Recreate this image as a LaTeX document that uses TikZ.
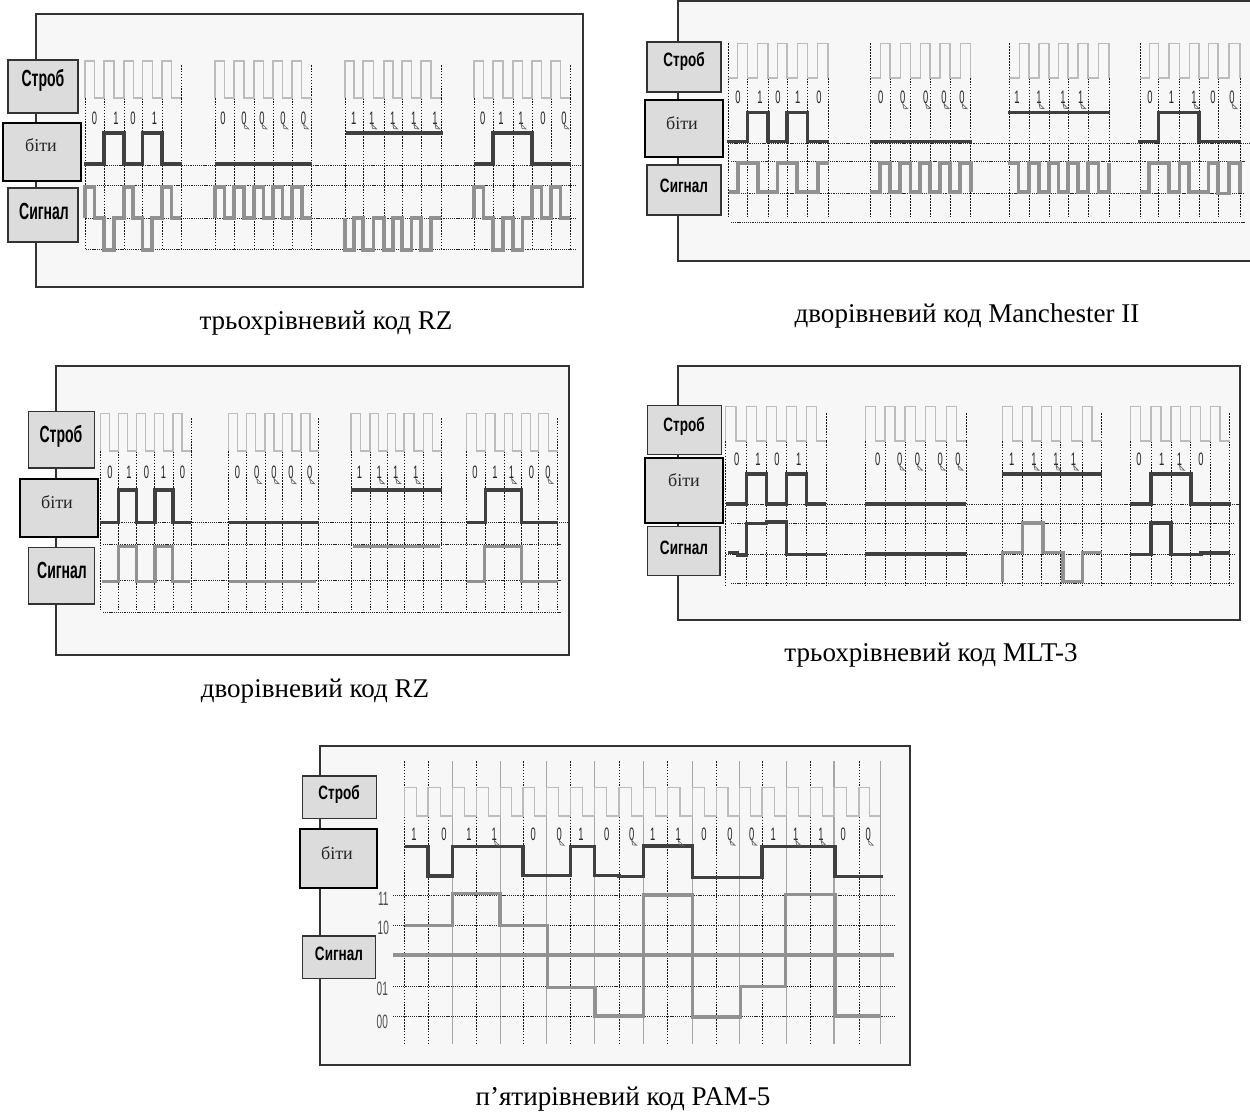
\documentclass[tikz,border=0pt]{standalone}
\usepackage{fontspec}
\setmainfont{Liberation Serif}
\newfontfamily\narrowfont[FakeStretch=0.7]{Liberation Sans}
\newfontfamily\tallfont[FakeStretch=0.6]{Liberation Sans}
\newfontfamily\digitfont[FakeStretch=0.52]{Liberation Sans}
\definecolor{panelFill}{RGB}{247,247,247}
\definecolor{boxFill}{RGB}{220,220,220}
\definecolor{bitDark}{RGB}{64,64,64}
\definecolor{signalGray}{RGB}{145,145,145}
\definecolor{clockGray}{RGB}{188,188,188}
\tikzset{
  panelframe/.style={draw=black!80, fill=panelFill, line width=0.9pt},
  thinbox/.style={draw=black!80, fill=boxFill, line width=1pt},
  thickbox/.style={draw=black, fill=boxFill, line width=1.5pt},
  boxlabel/.style={font=\narrowfont\bfseries\fontsize{14.5}{15}\selectfont, inner sep=0pt},
  boxlabeltall/.style={font=\tallfont\bfseries\fontsize{17.5}{18}\selectfont, inner sep=0pt},
  bitslabel/.style={font=\fontsize{13.5}{14}\selectfont, inner sep=0pt, text=black!85},
  digitlabel/.style={font=\digitfont\fontsize{13.5}{14}\selectfont, inner sep=0pt, text=black!85},
  levellabel/.style={font=\digitfont\fontsize{14.5}{15}\selectfont, inner sep=0pt, text=black!70},
  captionlabel/.style={font=\fontsize{20.3}{22}\selectfont, inner sep=0pt},
  gridrow/.style={black!85, line width=0.6pt, dash pattern=on 0.8pt off 0.6pt},
  gridcol/.style={black!90, line width=0.6pt, dash pattern=on 1.2pt off 1pt},
  gridsolid/.style={black!35, line width=0.8pt},
  clockline/.style={clockGray, line width=0.9pt},
  bitline/.style={bitDark, line width=2.5pt},
  signalline/.style={signalGray, line width=2.8pt},
  signalthin/.style={signalGray, line width=2.4pt},
  centerline/.style={signalGray, line width=3.4pt},
  cursormark/.style={black!60, line width=0.5pt}
}
\newcommand{\halfcell}[4]{-- (#1,#3) -- ({(#1+#2)/2},#3) -- ({(#1+#2)/2},#4) -- (#2,#4)}
\newcommand{\strobegroups}[6]{%
  \foreach \xa/\xb/\xc/\xd/\xe/\xf in {#6}{
    \foreach \xg in {\xa,\xb,\xc,\xd,\xe,\xf}
      \draw[gridcol] (\xg,#3) -- (\xg,#4);
    \draw[gridcol] (\xf,#5) -- (\xf,#3);
    \draw[clockline] (\xa,#3) \halfcell{\xa}{\xb}{#1}{#2} \halfcell{\xb}{\xc}{#1}{#2} \halfcell{\xc}{\xd}{#1}{#2} \halfcell{\xd}{\xe}{#1}{#2} \halfcell{\xe}{\xf}{#1}{#2} -- (\xf,#3);
  }}
\newcommand{\plainbits}[2]{%
  \foreach \xp/\dg in {#2}
    \node[digitlabel] at (\xp,#1) {\dg};}
\newcommand{\cursorbits}[2]{%
  \foreach \xp/\dg in {#2}{
    \node[digitlabel] at (\xp,#1) {\dg};
    \draw[cursormark] (\xp,#1+6) -- (\xp+5,#1+11) -- (\xp+1,#1+10.5) -- cycle;
  }}
\begin{document}
\begin{tikzpicture}[x=0.75pt, y=-0.75pt, line cap=butt, line join=miter]
  \useasboundingbox[fill=white] (0,0) rectangle (1250,1113);

  % RZ, three levels
  \draw[panelframe] (36,14) rectangle (583,287);
  \foreach \yrow/\xl/\xr in {165/85/583, 185/86/576, 218/86/576, 249/86/576}
    \draw[gridrow] (\xl,\yrow) -- (\xr,\yrow);
  \strobegroups{61}{98}{98}{248}{65}{85/104/124/142.5/162/181, 215/234/254/273/292/311.5, 345/363/384/402/421/441, 474/493/513/532/551/570}
  \draw[bitline] (84,164) -- (104,164) -- (104,133) -- (124,133) -- (124,164) -- (142.5,164) -- (142.5,133) -- (162,133) -- (162,164) -- (182,164);
  \draw[bitline] (215,164) -- (312,164);
  \draw[bitline] (346,133) -- (443,133);
  \draw[bitline] (474,164) -- (493,164) -- (493,133) -- (532,133) -- (532,164) -- (571,164);
  \draw[signalline] (85,218) \halfcell{85}{104}{187}{218} \halfcell{104}{124}{250}{218} \halfcell{124}{142.5}{187}{218} \halfcell{142.5}{162}{250}{218} \halfcell{162}{181}{187}{218};
  \draw[signalline] (215,218) \halfcell{215}{234}{187}{218} \halfcell{234}{254}{187}{218} \halfcell{254}{273}{187}{218} \halfcell{273}{292}{187}{218} \halfcell{292}{311.5}{187}{218};
  \draw[signalline] (345,218) \halfcell{345}{363}{250}{218} \halfcell{363}{384}{250}{218} \halfcell{384}{402}{250}{218} \halfcell{402}{421}{250}{218} \halfcell{421}{441}{250}{218};
  \draw[signalline] (474,218) \halfcell{474}{493}{187}{218} \halfcell{493}{513}{250}{218} \halfcell{513}{532}{250}{218} \halfcell{532}{551}{187}{218} \halfcell{551}{570}{187}{218};
  \plainbits{118}{94.6/0, 116/1, 133/0, 154.5/1, 223/0, 353.6/1, 482.8/0, 501/1, 543/0}
  \cursorbits{118}{244/0, 262/0, 283/0, 303.5/0, 371.6/1, 392.7/1, 413.8/1, 434.9/1, 521/1, 564/0}
  \path[thinbox] (8,60) rectangle (78,113);
  \path[thickbox] (3,123) rectangle (81,181);
  \path[thinbox] (8,188) rectangle (78,242);
  \node[boxlabeltall] (strobeA) at (43,80) {Строб};
  \node[bitslabel] (bitsA) at (41,145) {біти};
  \node[boxlabeltall] (signalA) at (44,211) {Сигнал};
  \node[captionlabel] (captionA) at (326,323) {трьохрівневий код RZ};

  % Manchester
  \draw[panelframe] (678,1) rectangle (1251,261);
  \foreach \yrow/\xl/\xr in {143/728/1250, 161.7/731/1245, 193.3/728/1245, 222.7/731/1245}
    \draw[gridrow] (\xl,\yrow) -- (\xr,\yrow);
  \strobegroups{78}{43.5}{78}{218}{43.5}{728/747.4/768/787/807.5/828, 870.7/890/910.6/930/950/970.7, 1009.4/1029/1049/1068/1088/1109, 1140/1158.5/1179.4/1199/1218/1240}
  \foreach \xg in {728,870.7,1009.4,1140}
    \draw[gridcol] (\xg,43.5) -- (\xg,78);
  \draw[bitline] (727,141.7) -- (747.4,141.7) -- (747.4,112.7) -- (768,112.7) -- (768,141.7) -- (787,141.7) -- (787,112.7) -- (807.5,112.7) -- (807.5,141.7) -- (829,141.7);
  \draw[bitline] (870,141.7) -- (972,141.7);
  \draw[bitline] (1008,112.7) -- (1110,112.7);
  \draw[bitline] (1138,141.7) -- (1158.5,141.7) -- (1158.5,112.7) -- (1199,112.7) -- (1199,141.7) -- (1241,141.7);
  \draw[signalline] (729,192) \halfcell{729}{747.4}{192}{163} \halfcell{747.4}{768}{163}{192} \halfcell{768}{787}{192}{163} \halfcell{787}{807.5}{163}{192} \halfcell{807.5}{829}{192}{163};
  \draw[signalline] (870,192) \halfcell{870}{890}{192}{163} \halfcell{890}{910.6}{192}{163} \halfcell{910.6}{930}{192}{163} \halfcell{930}{950}{192}{163} \halfcell{950}{970.7}{192}{163} -- (970.7,192);
  \draw[signalline] (1008,163) \halfcell{1008}{1029}{163}{192} \halfcell{1029}{1049}{163}{192} \halfcell{1049}{1068}{163}{192} \halfcell{1068}{1088}{163}{192} \halfcell{1088}{1109}{163}{192} -- (1109,163);
  \draw[signalline] (1140,192) \halfcell{1140}{1158.5}{192}{163} \halfcell{1158.5}{1179.4}{163}{192} \halfcell{1179.4}{1199}{163}{192} \halfcell{1199}{1218}{192}{163} \halfcell{1218}{1240}{193.5}{163} -- (1240,193);
  \plainbits{97.7}{738/0, 760/1, 778/0, 797.6/1, 819/0, 880.6/0, 1017/1, 1150/0, 1171.5/1, 1213/0}
  \cursorbits{97.7}{902.7/0, 925.6/0, 944/0, 962/0, 1039/1, 1063/1, 1080.6/1, 1194/1, 1232/0}
  \path[thinbox] (647,42) rectangle (721,92);
  \path[thickbox] (645,100) rectangle (722.5,157);
  \path[thinbox] (647,165) rectangle (721,215);
  \node[boxlabel] (strobeB) at (684,61.5) {Строб};
  \node[bitslabel] (bitsB) at (682,123) {біти};
  \node[boxlabel] (signalB) at (684,185.5) {Сигнал};
  \node[captionlabel] (captionB) at (967,316) {дворівневий код Manchester II};

  % RZ, two levels
  \draw[panelframe] (56,366) rectangle (569,655);
  \foreach \yrow/\xl/\xr in {522.5/100/567, 544.3/103/562, 580/103/562, 612.3/103/562}
    \draw[gridrow] (\xl,\yrow) -- (\xr,\yrow);
  \strobegroups{413.3}{451}{451}{610}{418}{100.4/118.8/136.8/154.4/173/191, 228.7/246.7/265/282.8/301/318.8, 351/370/387.4/404/423.8/441.8, 466.7/485.8/504.2/521.5/538.7/557.5}
  \draw[bitline] (100,522.3) -- (118.8,522.3) -- (118.8,490) -- (136.8,490) -- (136.8,522.3) -- (155,522.3) -- (155,490) -- (173,490) -- (173,522.3) -- (191,522.3);
  \draw[bitline] (228.7,522.3) -- (318.8,522.3);
  \draw[bitline] (351,490) -- (441.8,490);
  \draw[bitline] (466.7,522.3) -- (485.8,522.3) -- (485.8,490) -- (521.5,490) -- (521.5,522.3) -- (557.5,522.3);
  \draw[signalthin] (102,581.7) -- (118.8,581.7) -- (118.8,546.7) -- (136.8,546.7) -- (136.8,581.7) -- (155,581.7) -- (155,546.7) -- (172.8,546.7) -- (172.8,581.7) -- (190.4,581.7);
  \draw[signalthin] (228.7,581.7) -- (316,581.7);
  \draw[signalthin] (352.5,546.7) -- (439.5,546.7);
  \draw[signalthin] (467.4,581.7) -- (484.7,581.7) -- (484.7,546.7) -- (521.5,546.7) -- (521.5,581.7) -- (557.5,581.7);
  \plainbits{472.7}{110/0, 129/1, 146.4/0, 163.6/1, 182.4/0, 237.5/0, 359.4/1, 475/0, 495/1, 531.4/0}
  \cursorbits{472.7}{256.7/0, 274/0, 291/0, 309.6/0, 379.3/1, 395.8/1, 415.7/1, 511.5/1, 548/0}
  \path[thinbox] (28.7,411.7) rectangle (94.6,468);
  \path[thickbox] (20,479) rectangle (97.7,537);
  \path[thinbox] (28.7,547.7) rectangle (94.6,604);
  \node[boxlabeltall] (strobeC) at (61,436) {Строб};
  \node[bitslabel] (bitsC) at (57,502) {біти};
  \node[boxlabeltall] (signalC) at (62,570) {Сигнал};
  \node[captionlabel] (captionC) at (315,691) {дворівневий код RZ};

  % MLT-3
  \draw[panelframe] (678,366) rectangle (1240,620);
  \foreach \yrow/\xl/\xr in {504/726/1240, 523.3/731/1234.7, 554.3/726/1234.7, 583.3/731/1234.7}
    \draw[gridrow] (\xl,\yrow) -- (\xr,\yrow);
  \strobegroups{406.7}{441}{441}{585}{413.3}{725.7/746.2/766.4/786.5/806.7/826.4, 865.2/885/905/925.3/946.2/966, 1002.3/1022.5/1041.5/1060.8/1082.6/1101.5, 1130.4/1151/1171/1190.5/1210.2/1229.6}
  \draw[bitline] (725.7,504) -- (746.2,504) -- (746.2,474) -- (766.4,474) -- (766.4,504) -- (786.5,504) -- (786.5,474) -- (806.7,474) -- (806.7,504) -- (826.4,504);
  \draw[bitline] (865.2,504) -- (966,504);
  \draw[bitline] (1002.3,474) -- (1101.5,474);
  \draw[bitline] (1130.4,504) -- (1151,504) -- (1151,474) -- (1191,474) -- (1191,504) -- (1231,504);
  \draw[bitline] (728,552.7) -- (737.5,552.7) -- (737.5,555) -- (746.2,555) -- (746.2,523.5) -- (766.4,523.5) -- (766.4,522) -- (786.5,522) -- (786.5,554.5) -- (826.4,554.5);
  \draw[bitline] (865,554) -- (966,554);
  \draw[signalthin] (1002.3,582) -- (1002.3,552.5) -- (1022.5,552.5) -- (1022.5,523) -- (1043,523) -- (1043,552.5) -- (1063,552.5) -- (1063,581.7) -- (1082.6,581.7) -- (1082.6,552.5) -- (1101.5,552.5);
  \draw[bitline] (1130.4,554.5) -- (1151,554.5) -- (1151,523) -- (1171,523) -- (1171,554.5) -- (1201,554.5) -- (1201,553) -- (1229.6,553);
  \plainbits{459.3}{736.7/0, 758/1, 777/0, 798.8/1, 877.8/0, 1011.8/1, 1139/0, 1161.6/1, 1201/0}
  \cursorbits{459.3}{899.6/0, 917.4/0, 940.3/0, 958/0, 1034/1, 1056/1, 1073.5/1, 1179.4/1}
  \path[thinbox] (647.4,405.7) rectangle (721.7,454.3);
  \path[thickbox] (645,457.7) rectangle (722.5,522.7);
  \path[thinbox] (647.4,526.7) rectangle (720,575.7);
  \node[boxlabel] (strobeD) at (684,426) {Строб};
  \node[bitslabel] (bitsD) at (684,480) {біти};
  \node[boxlabel] (signalD) at (684,547.5) {Сигнал};
  \node[captionlabel] (captionD) at (931,655) {трьохрівневий код MLT-3};

  % PAM-5
  \draw[panelframe] (320,746) rectangle (910,1065);
  \foreach \xg in {404.7,428,476.7,523,570.7,619,667.7,716.3,762,810.3,859}
    \draw[gridcol] (\xg,761) -- (\xg,1044);
  \foreach \xg in {452.3,500.7,546.7,594.7,643.3,692.3,739.7,786.3,834,880.3}
    \draw[gridsolid] (\xg,761) -- (\xg,1044);
  \foreach \yrow in {895,925.7,986.7,1016}
    \draw[gridrow] (393.3,\yrow) -- (894,\yrow);
  \draw[centerline] (393.3,955) -- (894,955);
  \draw[clockline] (404.7,816) \halfcell{404.7}{428}{787.7}{816} \halfcell{428}{452.3}{787.7}{816} \halfcell{452.3}{476.7}{787.7}{816} \halfcell{476.7}{500.7}{787.7}{816} \halfcell{500.7}{523}{787.7}{816} \halfcell{523}{546.7}{787.7}{816} \halfcell{546.7}{570.7}{787.7}{816} \halfcell{570.7}{594.7}{787.7}{816} \halfcell{594.7}{619}{787.7}{816} \halfcell{619}{643.3}{787.7}{816} \halfcell{643.3}{667.7}{787.7}{816} \halfcell{667.7}{692.3}{787.7}{816} \halfcell{692.3}{716.3}{787.7}{816} \halfcell{716.3}{739.7}{787.7}{816} \halfcell{739.7}{762}{787.7}{816} \halfcell{762}{786.3}{787.7}{816} \halfcell{786.3}{810.3}{787.7}{816} \halfcell{810.3}{834}{787.7}{816} \halfcell{834}{859}{787.7}{816} \halfcell{859}{880.3}{787.7}{816};
  \draw[bitline] (405,846.7) -- (428,846.7) -- (428,876) -- (452.3,876) -- (452.3,846.7) -- (523,846.7) -- (523,875.5) -- (570.7,875.5) -- (570.7,846.7) -- (594.7,846.7) -- (594.7,875.5) -- (619,875.5) -- (619,876.7) -- (643.3,876.7) -- (643.3,846) -- (692.3,846) -- (692.3,877.5) -- (762,877.5) -- (762,846.7) -- (835,846.7) -- (835,876.5) -- (882.7,876.5);
  \draw[signalthin] (404.7,925.7) -- (452.3,925.7) -- (452.3,893.5) -- (500,893.5) -- (500,925.7) -- (547.7,925.7) -- (547.7,987.5) -- (595,987.5) -- (595,1016) -- (643.3,1016) -- (643.3,895) -- (692.3,895) -- (692.3,1017) -- (740.7,1017) -- (740.7,986.7) -- (785.7,986.7) -- (785.7,894.5) -- (835,894.5) -- (835,1016) -- (880.3,1016);
  \plainbits{834.3}{414/1, 444/0, 469/1, 533.3/0, 581/1, 606.7/0, 652.7/1, 704/0, 773.3/1, 843.3/0}
  \cursorbits{834.3}{494.3/1, 559.3/0, 631.7/0, 678.3/1, 730/0, 751.7/0, 795.7/1, 821/1, 868.3/0}
  \node[levellabel] (levelEleven) at (383.3,899) {11};
  \node[levellabel] (levelTen) at (383.3,928) {10};
  \node[levellabel] (levelOne) at (382.3,989) {01};
  \node[levellabel] (levelZero) at (382.3,1021.5) {00};
  \path[thinbox] (302.3,776) rectangle (376.7,818.7);
  \path[thickbox] (300,829.3) rectangle (377.3,888);
  \path[thinbox] (302.3,936) rectangle (375.7,978.7);
  \node[boxlabel] (strobeE) at (339,794.5) {Строб};
  \node[bitslabel] (bitsE) at (337,853) {біти};
  \node[boxlabel] (signalE) at (339,953.5) {Сигнал};
  \node[captionlabel] (captionE) at (623,1099) {п’ятирівневий код PAM-5};
\end{tikzpicture}
\end{document}
